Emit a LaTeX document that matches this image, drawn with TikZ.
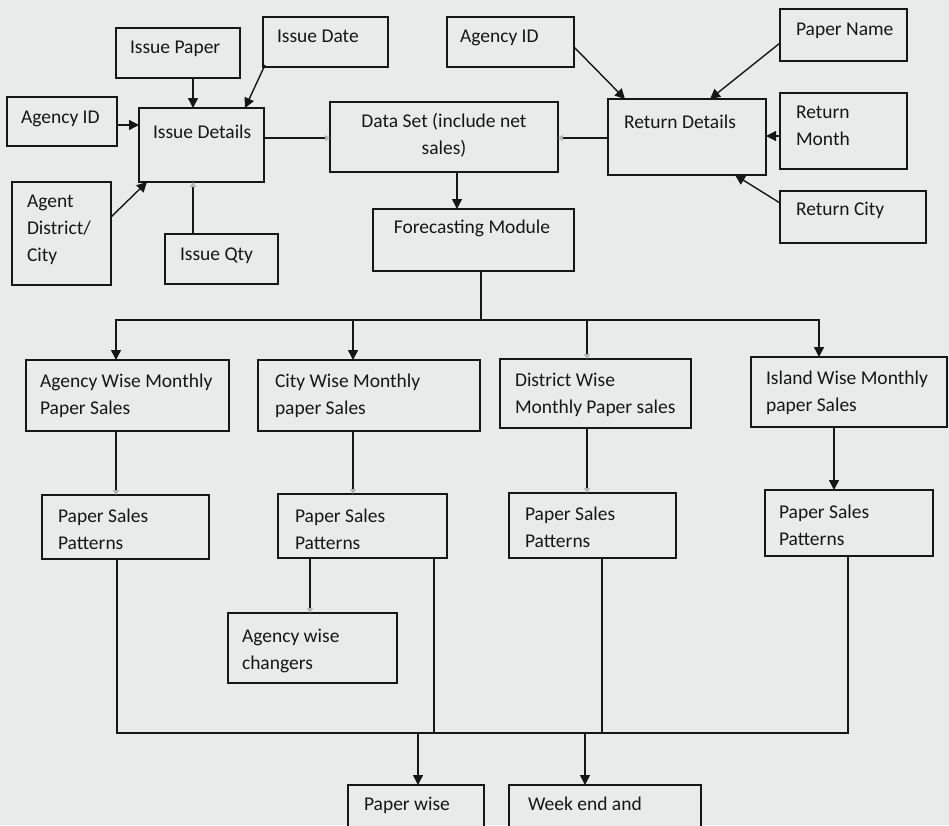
\documentclass[tikz,border=0pt]{standalone}
\usepackage{fontspec}
\setmainfont{Carlito}
\usetikzlibrary{arrows.meta}
\definecolor{bgc}{RGB}{233,235,235}
\definecolor{ink}{RGB}{22,22,22}
\tikzset{
  box/.style={draw=ink, line width=1.5pt, fill=bgc, inner sep=0pt, outer sep=0pt},
  txt/.style={inner sep=0pt, outer sep=0pt, align=left, text=ink, font=\fontsize{19.5}{27}\selectfont},
  ctxt/.style={txt, align=center},
  conn/.style={draw=ink, line width=1.4pt},
  arr/.style={conn, -{Triangle[length=10pt,width=10pt]}},
  farr/.style={conn, -{Triangle[length=5pt,width=6pt,color=gray!60]}}
}
% #1 name, #2 x1, #3 y1, #4 x2, #5 y2, #6 text x, #7 first baseline, #8 text
\newcommand\mybox[8]{%
  \node[box, anchor=north west, minimum width={(#4-#2)*1pt}, minimum height={(#5-#3)*1pt}] (#1) at (#2,#3) {};
  \node[txt, anchor=north west] (#1-t) at (#6,#7-18.9) {\strut #8};
}
\begin{document}
\begin{tikzpicture}[x=1pt,y=-1pt]
\clip (0,0) rectangle (949,825);
\fill[bgc] (0,0) rectangle (949,825);

% top left cluster
\mybox{ip}{116}{28}{240}{78}{130}{53}{Issue Paper}
\mybox{idt}{263}{17}{388}{67}{277}{42}{Issue Date}
\mybox{aidl}{7}{97}{117}{146}{21}{123}{Agency ID}
\mybox{id}{139}{108}{264}{182}{153}{138}{Issue Details}
\mybox{agd}{12}{182}{111}{285}{27}{207}{Agent\\District/\\City}
\mybox{iq}{165}{234}{278}{284}{180}{260}{Issue Qty}

% centre
\node[box, anchor=north west, minimum width=228pt, minimum height=70pt] (ds) at (330,102) {};
\node[ctxt, anchor=north] (ds-t) at (444,127-18.9) {\strut Data Set (include net\\sales)};
\node[box, anchor=north west, minimum width=201pt, minimum height=62pt] (fm) at (373,209) {};
\node[ctxt, anchor=north] (fm-t) at (472,233-18.9) {\strut Forecasting Module};

% top right cluster
\mybox{aidr}{447}{17}{574}{67}{460}{42}{Agency ID}
\mybox{rd}{608}{99}{766}{175}{624}{128}{Return Details}
\mybox{pn}{780}{9}{907}{61}{796}{35}{Paper Name}
\mybox{rm}{780}{93}{907}{169}{796}{118}{Return\\Month}
\mybox{rc}{780}{191}{926}{243}{796}{215}{Return City}

% level 2
\mybox{aw}{26}{360}{229}{431}{40}{387}{Agency Wise Monthly\\Paper Sales}
\mybox{cw}{258}{360}{480}{431}{275}{387}{City Wise Monthly\\paper Sales}
\mybox{dw}{500}{359}{691}{428}{515}{386}{District Wise\\Monthly Paper sales}
\mybox{iw}{751}{357}{947}{427}{766}{384}{Island Wise Monthly\\paper Sales}

% level 3
\mybox{pa}{42}{495}{209}{559}{58}{522}{Paper Sales\\Patterns}
\mybox{pb}{278}{494}{447}{558}{295}{522}{Paper Sales\\Patterns}
\mybox{pc}{509}{493}{676}{558}{525}{520}{Paper Sales\\Patterns}
\mybox{pd}{765}{490}{933}{556}{779}{518}{Paper Sales\\Patterns}

\mybox{ch}{228}{613}{397}{683}{242}{642}{Agency wise\\changers}

% bottom (cut off)
\mybox{pw}{348}{785}{484}{860}{364}{810}{Paper wise}
\mybox{we}{509}{785}{701}{860}{528}{810}{Week end and}

% connectors, top left
\draw[arr] (ip.south -| 193,0) -- (id.north -| 193,0);
\draw[arr] ([xshift=2pt,yshift=2pt]idt.south west) -- (id.north -| 245,0);
\draw[arr] (aidl.east |- 0,125) -- (id.west |- 0,125);
\draw[arr] (agd.east |- 0,217) -- ([xshift=8pt]id.south west);
\draw[farr] (iq.north -| 193,0) -- (id.south -| 193,0);
\draw[farr] (id.east |- 0,138) -- (ds.west |- 0,138);
\draw[farr] (rd.west |- 0,138) -- (ds.east |- 0,138);
\draw[arr] (ds.south -| 457,0) -- (fm.north -| 457,0);

% connectors, top right
\draw[arr] (aidr.east |- 0,47) -- (rd.north -| 625,0);
\draw[arr] (pn.west |- 0,43) -- (rd.north -| 710,0);
\draw[arr] (rm.west |- 0,136) -- (rd.east |- 0,136);
\draw[arr] (rc.west |- 0,203) -- (rd.south -| 735,0);

% branch
\coordinate (br) at (481,320);
\draw[conn] (fm.south -| br) -- (br);
\draw[arr] (br) -| (aw.north -| 116,0);
\draw[arr] (br) -| (cw.north -| 353,0);
\draw[farr] (br) -| (dw.north -| 587,0);
\draw[arr] (br) -| (iw.north -| 819,0);

% level 2 to 3
\draw[farr] (aw.south -| 116,0) -- (pa.north -| 116,0);
\draw[farr] (cw.south -| 353,0) -- (pb.north -| 353,0);
\draw[farr] (dw.south -| 587,0) -- (pc.north -| 587,0);
\draw[arr] (iw.south -| 834,0) -- (pd.north -| 834,0);
\draw[farr] (pb.south -| 310,0) -- (ch.north -| 310,0);

% collector
\coordinate (cl) at (117,733);
\coordinate (cr) at (848,733);
\draw[conn] (pa.south -| cl) -- (cl) -- (cr) -- (pd.south -| cr);
\draw[conn] (pb.south -| 434,0) -- (434,733);
\draw[conn] (pc.south -| 602,0) -- (602,733);
\coordinate (c1) at (418,733);
\coordinate (c2) at (585,733);
\draw[arr] (c1) -- (pw.north -| c1);
\draw[arr] (c2) -- (we.north -| c2);
\end{tikzpicture}
\end{document}
